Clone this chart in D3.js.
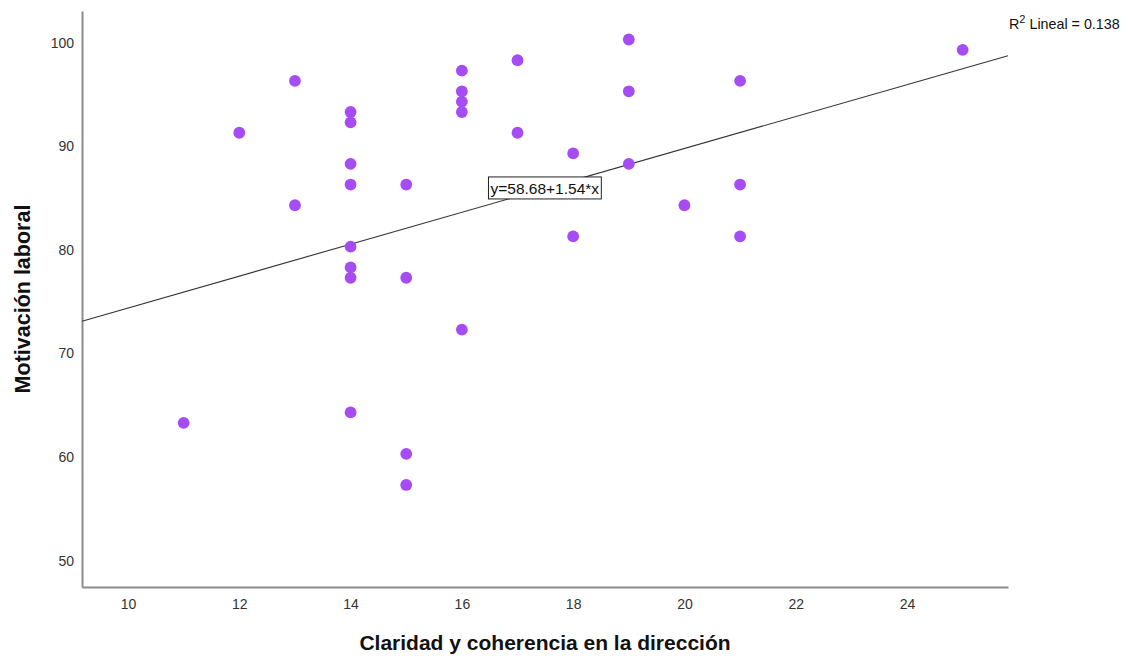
<!DOCTYPE html>
<html>
<head>
<meta charset="utf-8">
<script src="https://cdn.jsdelivr.net/npm/d3@7"></script>
<style>
  html, body { margin: 0; padding: 0; background: #fff; }
  svg { display: block; font-family: "Liberation Sans", Arial, sans-serif; }
</style>
</head>
<body>
<svg id="chart" width="1128" height="658"></svg>
<script>
// Claridad y coherencia en la dirección (x) vs. Motivación laboral (y)
const claridad = [11, 12, 13, 13, 14, 14, 14, 14, 14, 14, 14, 14, 15, 15, 15, 15,
                  16, 16, 16, 16, 16, 17, 17, 18, 18, 19, 19, 19, 20, 21, 21, 21, 25];
const motivacion = [63, 91, 96, 84, 93, 92, 88, 86, 80, 78, 77, 64, 86, 77, 60, 57,
                    97, 95, 94, 93, 72, 98, 91, 89, 81, 100, 95, 88, 84, 96, 86, 81, 99];

const xTicks = [10, 12, 14, 16, 18, 20, 22, 24];
const yTicks = [50, 60, 70, 80, 90, 100];

// Linear fit reported on the chart
const intercept = 58.68;
const slope = 1.54;
const r2 = 0.138;

const svg = d3.select("#chart");
const plot = { left: 82, right: 1008, top: 11, bottom: 587 };

const x = d3.scaleLinear().domain([9.173, 25.815]).range([plot.left, plot.right]);
const y = d3.scaleLinear().domain([47.15, 102.75]).range([plot.bottom, plot.top]);

// Axes: plain gray lines, labels only
const xAxis = svg.append("g")
  .attr("transform", `translate(0,${plot.bottom})`)
  .call(d3.axisBottom(x).tickValues(xTicks).tickSize(0).tickPadding(12));
const yAxis = svg.append("g")
  .attr("transform", `translate(${plot.left},0)`)
  .call(d3.axisLeft(y).tickValues(yTicks).tickSize(0).tickPadding(8));

[xAxis, yAxis].forEach(g => {
  g.select(".domain").attr("stroke", "#8c8c8c").attr("stroke-width", 2);
  g.selectAll("text")
    .attr("fill", "#333")
    .attr("font-size", 14)
    .attr("font-family", "Liberation Sans, Arial, sans-serif");
});
yAxis.selectAll("text").attr("dy", "0.55em");

// Fit line across the plotting range
const xd = x.domain();
svg.append("line")
  .attr("x1", x(xd[0])).attr("y1", y(intercept + slope * xd[0]))
  .attr("x2", x(xd[1])).attr("y2", y(intercept + slope * xd[1]))
  .attr("stroke", "#333").attr("stroke-width", 1.1);

// Points
svg.append("g").selectAll("circle")
  .data(claridad.map((c, i) => [c, motivacion[i]]))
  .join("circle")
  .attr("cx", d => x(d[0]))
  .attr("cy", d => y(d[1]))
  .attr("r", 5.9)
  .attr("fill", "#a64cf4");

// Equation label on the fit line
const eqX = 17.49;
const eqG = svg.append("g")
  .attr("transform", `translate(${x(eqX)},${y(intercept + slope * eqX)})`);
const eqText = eqG.append("text")
  .attr("text-anchor", "middle")
  .attr("dy", "0.35em")
  .attr("font-size", 15.5)
  .attr("fill", "#111")
  .text(`y=${intercept.toFixed(2)}+${slope.toFixed(2)}*x`);
const bb = eqText.node().getBBox();
eqG.insert("rect", "text")
  .attr("x", bb.x - 2).attr("y", bb.y - 3)
  .attr("width", bb.width + 4).attr("height", bb.height + 5)
  .attr("fill", "#fff").attr("stroke", "#222").attr("stroke-width", 1);

// R² annotation
const r2Text = svg.append("text")
  .attr("x", 1009).attr("y", 29)
  .attr("font-size", 14.3)
  .attr("fill", "#111");
r2Text.append("tspan").text("R");
r2Text.append("tspan").attr("dy", -6).attr("font-size", 11).text("2");
r2Text.append("tspan").attr("dy", 6).text(` Lineal = ${r2.toFixed(3)}`);

// Axis titles
svg.append("text")
  .attr("x", (plot.left + plot.right) / 2).attr("y", 650)
  .attr("text-anchor", "middle")
  .attr("font-size", 21).attr("font-weight", "bold").attr("fill", "#111")
  .text("Claridad y coherencia en la dirección");
svg.append("text")
  .attr("transform", `translate(30,${(plot.top + plot.bottom) / 2}) rotate(-90)`)
  .attr("text-anchor", "middle")
  .attr("font-size", 21.5).attr("font-weight", "bold").attr("fill", "#111")
  .text("Motivación laboral");
</script>
</body>
</html>
